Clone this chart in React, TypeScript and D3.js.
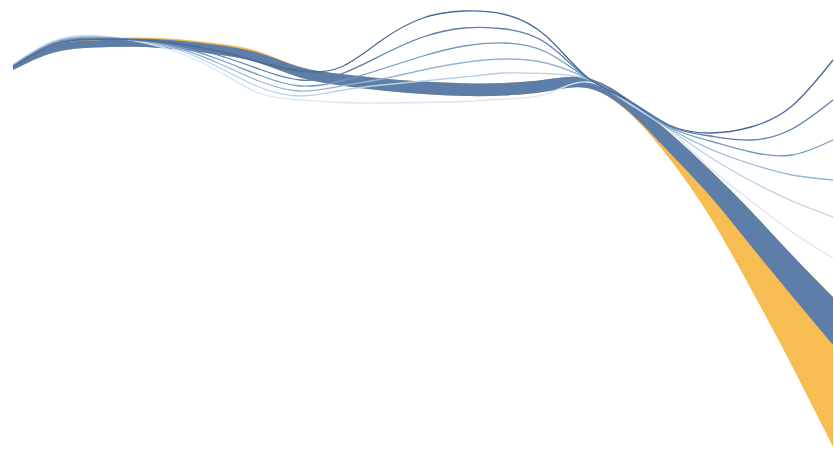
import React from "react";
import * as d3 from "d3";

// evenly spaced sample positions along the horizontal axis
const xs = [0, 1, 2, 3, 4, 5, 6, 7, 8, 9, 10, 11, 12, 13, 14, 15, 16, 17, 18, 19, 20];

// band edges (depth units, grows downward)
const blueTop = [6.6, 4.5, 4.05, 3.88, 4.05, 4.5, 5.3, 6.7, 7.4, 7.85, 8.15, 8.32, 8.3, 7.95, 7.8, 9.9, 13.2, 17.0, 21.1, 25.5, 29.7];
const blueBottom = [7.0, 5.25, 4.75, 4.68, 4.95, 5.45, 6.3, 7.75, 8.55, 9.05, 9.4, 9.6, 9.55, 9.15, 8.8, 11.1, 15.2, 19.6, 24.6, 29.6, 34.5];
const orangeTop = [6.6, 4.4, 3.9, 3.75, 3.9, 4.35, 5.15, 6.7, 7.4, 7.85, 8.15, 8.32, 8.3, 7.95, 7.8, 9.9, 13.2, 17.0, 21.1, 25.5, 29.7];
const orangeBottom = [7.0, 5.25, 4.75, 4.68, 4.95, 5.45, 6.3, 7.75, 8.55, 9.05, 9.4, 9.6, 9.55, 9.15, 8.8, 11.2, 15.8, 21.7, 28.9, 36.6, 44.7];

// fitted curves, darkest first
const fit1 = [6.7, 4.45, 3.95, 3.95, 4.35, 5.1, 6.2, 7.1, 6.7, 4.0, 1.8, 1.1, 1.45, 3.6, 7.7, 10.0, 12.5, 13.3, 12.7, 10.6, 6.0];
const fit2 = [6.65, 4.38, 3.88, 3.98, 4.5, 5.5, 6.9, 8.0, 7.4, 5.5, 3.7, 2.8, 2.9, 4.3, 7.75, 10.05, 12.6, 13.6, 14.0, 12.9, 10.0];
const fit3 = [6.6, 4.3, 3.8, 4.0, 4.65, 5.9, 7.5, 8.6, 8.1, 6.9, 5.6, 4.6, 4.3, 5.2, 7.8, 10.1, 12.7, 14.1, 15.2, 15.5, 14.0];
const fit4 = [6.55, 4.22, 3.72, 4.02, 4.8, 6.3, 8.1, 9.1, 8.6, 7.9, 7.0, 6.25, 5.9, 6.3, 7.85, 10.15, 12.8, 14.9, 16.4, 17.5, 18.0];
const fit5 = [6.5, 4.15, 3.65, 4.05, 4.95, 6.7, 8.7, 9.6, 9.05, 8.5, 8.1, 7.7, 7.3, 7.35, 7.9, 10.2, 12.9, 15.7, 18.1, 20.1, 21.7];
const fit6 = [6.45, 4.05, 3.55, 4.1, 5.2, 7.1, 9.3, 10.0, 10.25, 10.3, 10.25, 10.15, 9.9, 9.4, 8.2, 10.3, 13.0, 16.8, 20.1, 23.2, 25.8];

const fits = [fit1, fit2, fit3, fit4, fit5, fit6];
const fitColors = ["#4a6a98", "#5a7dab", "#7598c1", "#95b5d5", "#b6d0e7", "#d6e6f4"];

const W = 834;
const H = 449;

export default function App() {
    const x = d3.scaleLinear().domain([0, 20]).range([13, 833]);
    const y = d3.scaleLinear().domain([0, 44.9]).range([0, H]);
    const curve = d3.curveNatural;

    const band = (top: number[], bottom: number[]) =>
        d3.area<number>()
            .x(d => x(d))
            .y0((d, i) => y(top[i]))
            .y1((d, i) => y(bottom[i]))
            .curve(curve)(xs) as string;

    const line = d3.line<number>()
        .x((d, i) => x(xs[i]))
        .y(d => y(d))
        .curve(curve);

    return (
        <svg width={W} height={H} style={{position: "absolute", left: 0, top: 0, background: "#fff"}}>
            <path d={band(orangeTop, orangeBottom)} fill="#f7bc52"/>
            <path d={band(blueTop, blueBottom)} fill="#5d7ea8"/>
            {fits.slice().reverse().map((f, i) => (
                <path key={i} d={line(f) as string} fill="none"
                      stroke={fitColors[fits.length - 1 - i]} strokeWidth={1.3}/>
            ))}
        </svg>
    );
}
